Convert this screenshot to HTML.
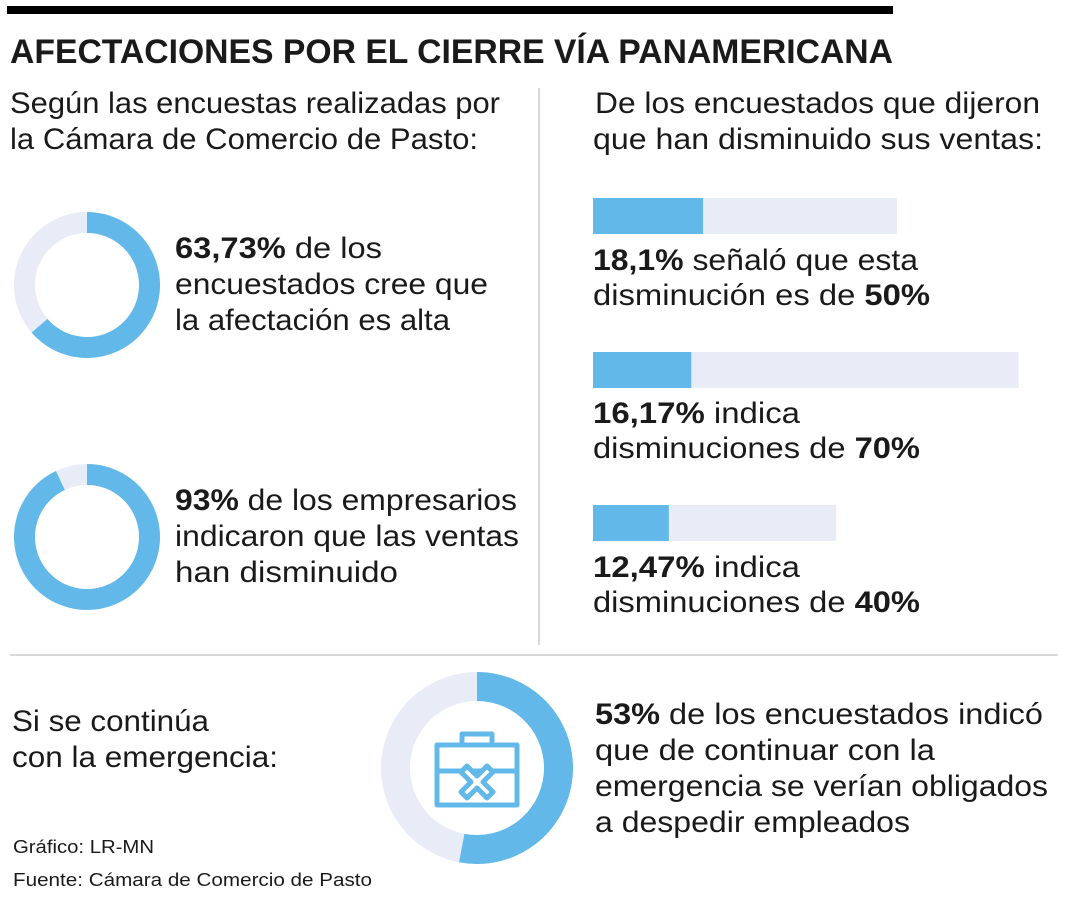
<!DOCTYPE html>
<html><head><meta charset="utf-8"><style>
html,body{margin:0;padding:0;background:#fff}
svg{display:block}
text{font-family:"Liberation Sans",sans-serif;fill:#1a1a1a}
.t{font-size:30px}
.b{font-weight:bold}
</style></head><body>
<svg id="chart" width="1080" height="900" viewBox="0 0 1080 900">
<rect x="7" y="6" width="886" height="8" fill="#000"/>
<text x="10" y="63" font-size="34" class="b" textLength="883" lengthAdjust="spacingAndGlyphs">AFECTACIONES POR EL CIERRE VÍA PANAMERICANA</text>
<g class="t">
<text x="10" y="113" textLength="490" lengthAdjust="spacingAndGlyphs">Según las encuestas realizadas por</text>
<text x="10" y="149" textLength="468" lengthAdjust="spacingAndGlyphs">la Cámara de Comercio de Pasto:</text>
</g>
<g class="t">
<text x="595" y="113" textLength="445" lengthAdjust="spacingAndGlyphs">De los encuestados que dijeron</text>
<text x="593" y="149" textLength="450" lengthAdjust="spacingAndGlyphs">que han disminuido sus ventas:</text>
</g>
<line x1="539" y1="88" x2="539" y2="645" stroke="#ccc" stroke-width="1.5"/>
<line x1="10" y1="655" x2="1058" y2="655" stroke="#ccc" stroke-width="1.5"/>
<g class="t">
<text x="175" y="258" textLength="207" lengthAdjust="spacingAndGlyphs"><tspan class="b">63,73%</tspan> de los</text>
<text x="175" y="294" textLength="313" lengthAdjust="spacingAndGlyphs">encuestados cree que</text>
<text x="175" y="330" textLength="275" lengthAdjust="spacingAndGlyphs">la afectación es alta</text>
</g>
<g class="t">
<text x="175" y="510" textLength="342" lengthAdjust="spacingAndGlyphs"><tspan class="b">93%</tspan> de los empresarios</text>
<text x="175" y="546" textLength="344" lengthAdjust="spacingAndGlyphs">indicaron que las ventas</text>
<text x="175" y="582" textLength="223" lengthAdjust="spacingAndGlyphs">han disminuido</text>
</g>
<g class="t">
<text x="593" y="270" textLength="325" lengthAdjust="spacingAndGlyphs"><tspan class="b">18,1%</tspan> señaló que esta</text>
<text x="593" y="305" textLength="337" lengthAdjust="spacingAndGlyphs">disminución es de <tspan class="b">50%</tspan></text>
</g>
<g class="t">
<text x="593" y="423" textLength="207" lengthAdjust="spacingAndGlyphs"><tspan class="b">16,17%</tspan> indica</text>
<text x="593" y="458" textLength="327" lengthAdjust="spacingAndGlyphs">disminuciones de <tspan class="b">70%</tspan></text>
</g>
<g class="t">
<text x="593" y="577" textLength="207" lengthAdjust="spacingAndGlyphs"><tspan class="b">12,47%</tspan> indica</text>
<text x="593" y="612" textLength="327" lengthAdjust="spacingAndGlyphs">disminuciones de <tspan class="b">40%</tspan></text>
</g>
<g class="t">
<text x="12" y="731" textLength="197" lengthAdjust="spacingAndGlyphs">Si se continúa</text>
<text x="12" y="767" textLength="266" lengthAdjust="spacingAndGlyphs">con la emergencia:</text>
</g>
<g class="t">
<text x="595" y="724" textLength="448" lengthAdjust="spacingAndGlyphs"><tspan class="b">53%</tspan> de los encuestados indicó</text>
<text x="595" y="760" textLength="340" lengthAdjust="spacingAndGlyphs">que de continuar con la</text>
<text x="595" y="796" textLength="453" lengthAdjust="spacingAndGlyphs">emergencia se verían obligados</text>
<text x="595" y="832" textLength="315" lengthAdjust="spacingAndGlyphs">a despedir empleados</text>
</g>
<text x="13" y="853" font-size="18" textLength="141" lengthAdjust="spacingAndGlyphs">Gráfico: LR-MN</text>
<text x="13" y="886" font-size="18" textLength="359" lengthAdjust="spacingAndGlyphs">Fuente: Cámara de Comercio de Pasto</text>
<g id="marks"></g>
<g fill="none" stroke="#62b8e8" stroke-width="5" stroke-linejoin="round">
<rect x="437" y="745" width="80" height="60"/>
<rect x="462" y="734" width="30" height="11"/>
<path d="M437 771 L517 771"/>
<path d="M467 766 l10 10 l10 -10 l6 6 l-10 10 l10 10 l-6 6 l-10 -10 l-10 10 l-6 -6 l10 -10 l-10 -10 z" fill="#fff"/>
</g>
</svg>
<script>
const donutValues = [63.73, 93, 53];
const donutNames = ['donut-afectacion-alta', 'donut-ventas-disminuido', 'donut-despedir'];
const barValues = [18.1, 16.17, 12.47];
const barTotals = [50, 70, 40];
const barNames = ['bar-50', 'bar-70', 'bar-40'];

const NS = 'http://www.w3.org/2000/svg';
const g = document.getElementById('marks');
const BLUE = '#62b8e8', LIGHT = '#e8ecf7';
const donutGeo = [[87, 285, 73, 52], [87, 537, 73, 52], [477, 768, 96, 67]];
function arcPath(cx, cy, ro, ri, a0, a1) {
  const p = (r, a) => [cx + r * Math.sin(a), cy - r * Math.cos(a)];
  const large = (a1 - a0) > Math.PI ? 1 : 0;
  const [x0, y0] = p(ro, a0), [x1, y1] = p(ro, a1), [x2, y2] = p(ri, a1), [x3, y3] = p(ri, a0);
  return `M${x0} ${y0} A${ro} ${ro} 0 ${large} 1 ${x1} ${y1} L${x2} ${y2} A${ri} ${ri} 0 ${large} 0 ${x3} ${y3} Z`;
}
donutValues.forEach((v, i) => {
  const [cx, cy, ro, ri] = donutGeo[i];
  const a = Math.min(v, 99.999) / 100 * 2 * Math.PI;
  const bg = document.createElementNS(NS, 'path');
  bg.setAttribute('d', arcPath(cx, cy, ro, ri, a, 2 * Math.PI - 0.00001));
  bg.setAttribute('fill', LIGHT);
  
  
  g.appendChild(bg);
  const fg = document.createElementNS(NS, 'path');
  fg.setAttribute('d', arcPath(cx, cy, ro, ri, 0, a));
  fg.setAttribute('fill', BLUE);
  
  
  g.appendChild(fg);
});
const barX = 593, pxPerPct = 6.08, barYs = [198, 352, 505], barH = 36;
const xs = v => v * pxPerPct;
barValues.forEach((v, i) => {
  const t = document.createElementNS(NS, 'rect');
  t.setAttribute('x', barX); t.setAttribute('y', barYs[i]);
  t.setAttribute('width', xs(barTotals[i])); t.setAttribute('height', barH);
  t.setAttribute('fill', LIGHT);
  
  
  g.appendChild(t);
  const r = document.createElementNS(NS, 'rect');
  r.setAttribute('x', barX); r.setAttribute('y', barYs[i]);
  r.setAttribute('width', xs(v)); r.setAttribute('height', barH);
  r.setAttribute('fill', BLUE);
  
  
  g.appendChild(r);
});
</script>
</body></html>
